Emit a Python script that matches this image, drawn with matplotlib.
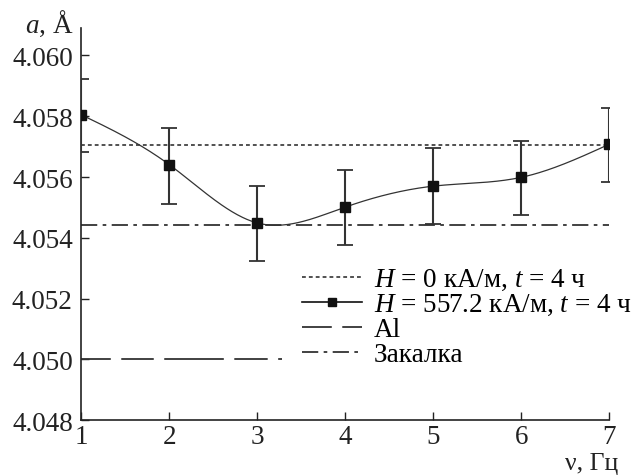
import numpy as np
import matplotlib
matplotlib.use("Agg")
import matplotlib.pyplot as plt

plt.rcParams['font.family'] = ['Liberation Serif', 'DejaVu Serif']
plt.rcParams['mathtext.fontset'] = 'custom'
plt.rcParams['mathtext.rm'] = 'Liberation Serif'
plt.rcParams['mathtext.it'] = 'Liberation Serif:italic'

# data
freq = [1, 2, 3, 4, 5, 6, 7]
a_H557 = [4.05805, 4.05641, 4.05449, 4.05501, 4.05570, 4.05599, 4.05708]
err_up = [4.05924, 4.05762, 4.05570, 4.05622, 4.05696, 4.05719, 4.05828]
err_lo = [4.05683, 4.05512, 4.05324, 4.05378, 4.05446, 4.05476, 4.05584]
a_H0 = 4.05707
a_quench = 4.05441
a_Al = 4.0500
al_span = [1, 3.28]

yticks = [4.048, 4.050, 4.052, 4.054, 4.056, 4.058, 4.060]


def natural_spline(x, y, xs):
    x = np.asarray(x, float)
    y = np.asarray(y, float)
    n = len(x)
    h = np.diff(x)
    A = np.zeros((n, n))
    b = np.zeros(n)
    A[0, 0] = A[-1, -1] = 1
    for i in range(1, n - 1):
        A[i, i - 1] = h[i - 1]
        A[i, i] = 2 * (h[i - 1] + h[i])
        A[i, i + 1] = h[i]
        b[i] = 6 * ((y[i + 1] - y[i]) / h[i] - (y[i] - y[i - 1]) / h[i - 1])
    M = np.linalg.solve(A, b)
    idx = np.clip(np.searchsorted(x, xs) - 1, 0, n - 2)
    x0, x1 = x[idx], x[idx + 1]
    hh = x1 - x0
    t0, t1 = x1 - xs, xs - x0
    return (M[idx] * t0**3 / (6 * hh) + M[idx + 1] * t1**3 / (6 * hh)
            + (y[idx] / hh - M[idx] * hh / 6) * t0
            + (y[idx + 1] / hh - M[idx + 1] * hh / 6) * t1)


fig = plt.figure(figsize=(6.34, 4.77), dpi=100)
ax = fig.add_axes([0.128, 0.117, 0.833, 0.822])

x_fine = np.linspace(1, 7, 400)
y_fine = natural_spline(freq, a_H557, x_fine)

ax.plot([1, 7], [a_H0, a_H0], color='#222222', lw=1.1, ls=(0, (2.5, 2)),
        label=r'$H$ = 0 кА/м, $t$ = 4 ч')
ax.plot(x_fine, y_fine, color='#333333', lw=0.9)
yerr = [np.array(a_H557) - np.array(err_lo), np.array(err_up) - np.array(a_H557)]
ax.errorbar(freq, a_H557, yerr=yerr, fmt='none', ecolor='#333333',
            elinewidth=1.5, capsize=5.5, capthick=1.3, zorder=3)
ax.plot(freq, a_H557, ls='none', marker='s', ms=6.5, color='#111111', zorder=4)
ax.plot([], [], color='#111111', lw=1.2, marker='s', ms=6,
        label=r'$H$ = 557.2 кА/м, $t$ = 4 ч')
ax.plot(al_span, [a_Al, a_Al], color='#333333', lw=1.3,
        ls=(0, (16.5, 5.8, 18, 5.8, 33, 5.8, 18.5, 5.8, 34, 5.8)),
        label='Al')
ax.plot([1, 7], [a_quench, a_quench], color='#333333', lw=1.3,
        ls=(0, (9, 3, 2, 3)), label='Закалка')

ax.legend(loc='upper left', bbox_to_anchor=(302 / 634, 1 - 268 / 477),
          bbox_transform=fig.transFigure, frameon=False, fontsize=19.5,
          handlelength=2.2, handletextpad=0.45, labelspacing=0.0,
          borderpad=0, borderaxespad=0)

ax.set_xlim(1, 7)
ax.set_ylim(4.048, 4.0609)
ax.set_xticks(freq)
ax.set_yticks(yticks)
ax.set_yticklabels([f'{v:.3f}' for v in yticks])
ax.tick_params(direction='in', length=6, width=1, labelsize=19.5, pad=6,
               colors='#222222')
ax.tick_params(axis='x', pad=3)
for s in ['top', 'right']:
    ax.spines[s].set_visible(False)
for s in ['left', 'bottom']:
    ax.spines[s].set_linewidth(1.2)
    ax.spines[s].set_color('#222222')

fig.text(25 / 634, 1 - 33 / 477, r'$a$, Å', fontsize=19.5, va='baseline',
         ha='left', color='#222222')
fig.text(618 / 634, 1 - 470 / 477, 'ν, Гц', fontsize=18.5, va='baseline',
         ha='right', color='#222222')

fig.savefig('out.png', dpi=100)
